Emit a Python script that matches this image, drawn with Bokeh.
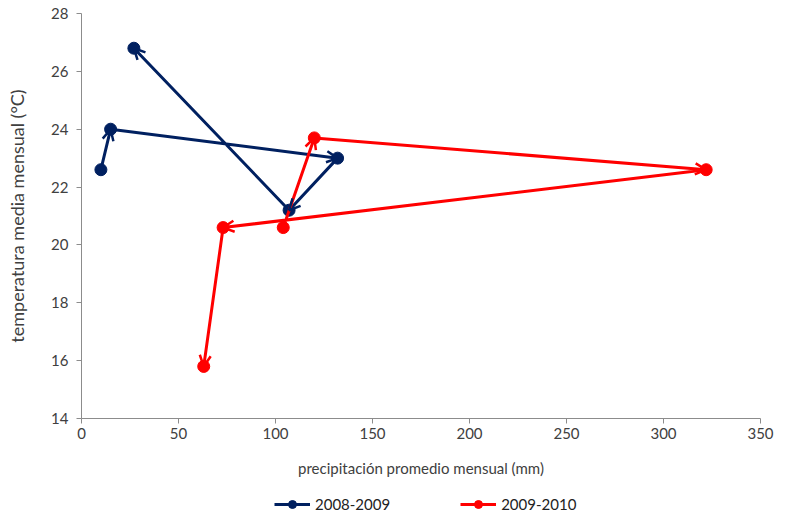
from bokeh.plotting import figure
from bokeh.layouts import column
from bokeh.models import Range1d, FixedTicker, Arrow, OpenHead, ColumnDataSource, Legend, LegendItem
from bokeh.embed import file_html
from bokeh.resources import INLINE

# Data (precipitation mm, temperature °C), in chronological order
s1_name = "2008-2009"
s1_precip = [10, 15, 132, 107, 27]
s1_temp = [22.6, 24.0, 23.0, 21.2, 26.8]

s2_name = "2009-2010"
s2_precip = [104, 120, 322, 73, 63]
s2_temp = [20.6, 23.7, 22.6, 20.6, 15.8]

x_ticks = [0, 50, 100, 150, 200, 250, 300, 350]
y_ticks = [14, 16, 18, 20, 22, 24, 26, 28]

FONT = "Lato"
TXT = "#404040"
AX = "#8c8c8c"
COLORS = ["#002060", "#ff0000"]
series = [(s1_name, s1_precip, s1_temp, COLORS[0]),
          (s2_name, s2_precip, s2_temp, COLORS[1])]

p = figure(width=775, height=479, output_backend="svg", toolbar_location=None,
           x_range=Range1d(0, 350), y_range=Range1d(14, 28),
           min_border_left=81, min_border_right=15, min_border_top=13, min_border_bottom=61)
p.outline_line_color = None
p.xgrid.visible = False
p.ygrid.visible = False

for ax in (p.xaxis[0], p.yaxis[0]):
    ax.axis_line_color = AX
    ax.major_tick_line_color = AX
    ax.minor_tick_line_color = None
    ax.major_tick_out = 5
    ax.major_tick_in = 0
    ax.major_label_text_font = FONT
    ax.major_label_text_font_size = "15px"
    ax.major_label_text_color = TXT
    ax.axis_label_text_font = FONT
    ax.axis_label_text_font_size = "15px"
    ax.axis_label_text_font_style = "normal"
    ax.axis_label_text_color = TXT

p.xaxis.ticker = FixedTicker(ticks=x_ticks)
p.yaxis.ticker = FixedTicker(ticks=y_ticks)
p.xaxis.axis_label = "precipitación promedio mensual (mm)"
p.yaxis.axis_label = "temperatura media mensual (°C)"
p.yaxis.axis_label_text_font_size = "18px"
p.xaxis.major_label_standoff = 4
p.xaxis.axis_label_standoff = 17
p.yaxis.major_label_standoff = 8
p.yaxis.axis_label_standoff = 20

for name, xs, ys, col in series:
    p.line(xs, ys, line_color=col, line_width=3)
    p.scatter(xs, ys, marker="circle", size=12, fill_color=col, line_color=col)
    src = ColumnDataSource(dict(x0=xs[:-1], y0=ys[:-1], x1=xs[1:], y1=ys[1:]))
    p.add_layout(Arrow(end=OpenHead(size=11, line_color=col, line_width=2.5),
                       x_start="x0", y_start="y0", x_end="x1", y_end="y1",
                       line_alpha=0, source=src))

# legend strip below the chart (its renderers use the same data, outside this strip's range)
lg = figure(width=775, height=36, output_backend="svg", toolbar_location=None,
            x_range=Range1d(-2, -1), y_range=Range1d(-2, -1),
            x_axis_location=None, y_axis_location=None,
            min_border_left=0, min_border_right=0, min_border_top=0, min_border_bottom=0)
lg.outline_line_color = None
lg.grid.visible = False
items = []
for name, xs, ys, col in series:
    l = lg.line(xs, ys, line_color=col, line_width=3)
    s = lg.scatter(xs, ys, marker="circle", size=11, fill_color=col, line_color=col)
    items.append(LegendItem(label=name, renderers=[l, s]))
legend = Legend(items=items, orientation="horizontal", location=(193, 1),
                label_text_font=FONT, label_text_font_size="15px", label_text_color="#222222",
                border_line_color=None, background_fill_alpha=0,
                glyph_width=36, spacing=70, padding=2, margin=0)
lg.add_layout(legend)

open("out.html", "w").write(file_html(column(p, lg, spacing=0), INLINE))
